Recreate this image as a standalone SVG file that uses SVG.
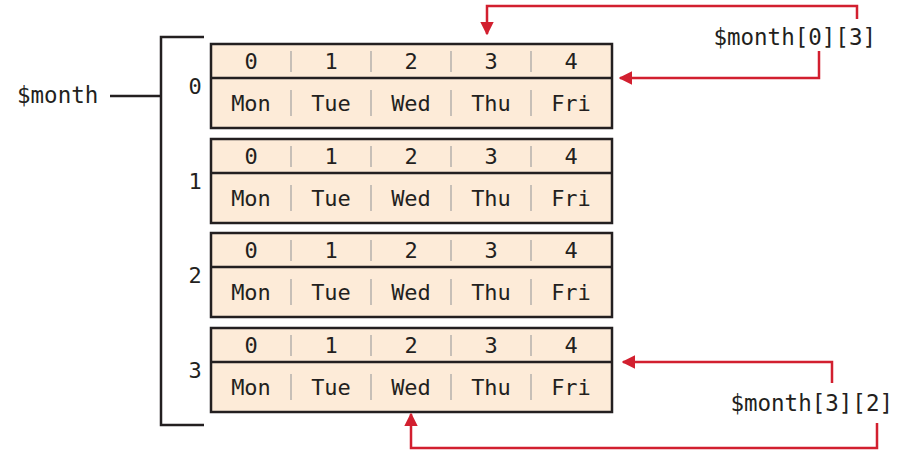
<svg xmlns="http://www.w3.org/2000/svg" width="907" height="451" viewBox="0 0 907 451">
<defs>
<style>
.box{fill:#fdebd8;stroke:#231f20;stroke-width:2.5}
.split{stroke:#231f20;stroke-width:2.5}
.sep{stroke:#b5b0ad;stroke-width:1.5}
.t{font-family:"DejaVu Sans Mono","Liberation Mono",monospace;fill:#231f20;text-anchor:middle}
.idx{font-size:22px}
.day{font-size:22px}
.lbl{font-family:"DejaVu Sans Mono","Liberation Mono",monospace;fill:#231f20;font-size:22.5px}
.blk{fill:none;stroke:#231f20;stroke-width:2.5}
.red{fill:none;stroke:#d21f2f;stroke-width:2.5}
</style>
<marker id="ah" viewBox="0 0 10 10" refX="9" refY="5" markerWidth="5.5" markerHeight="5.5" markerUnits="strokeWidth" orient="auto">
<path d="M0,0 L10,5 L0,10 z" fill="#d21f2f"/>
</marker>
<g id="row">
<rect class="box" x="211" y="0" width="401" height="84"/>
<line class="split" x1="211" y1="34" x2="612" y2="34"/>
<g class="sep">
<line x1="291" y1="7" x2="291" y2="28"/><line x1="371" y1="7" x2="371" y2="28"/><line x1="451" y1="7" x2="451" y2="28"/><line x1="531" y1="7" x2="531" y2="28"/>
<line x1="291" y1="46" x2="291" y2="72"/><line x1="371" y1="46" x2="371" y2="72"/><line x1="451" y1="46" x2="451" y2="72"/><line x1="531" y1="46" x2="531" y2="72"/>
</g>
<g class="t idx">
<text x="251" y="25">0</text><text x="331" y="25">1</text><text x="411" y="25">2</text><text x="491" y="25">3</text><text x="571" y="25">4</text>
</g>
<g class="t day">
<text x="251" y="67">Mon</text><text x="331" y="67">Tue</text><text x="411" y="67">Wed</text><text x="491" y="67">Thu</text><text x="571" y="67">Fri</text>
</g>
</g>
</defs>
<g id="month-label">
<text class="lbl" x="17" y="103">$month</text>
<line class="blk" x1="110" y1="96" x2="161" y2="96"/>
<path class="blk" d="M204,37 H161 V425 H204"/>
</g>
<g id="row0"><use href="#row" y="44"/><text class="t idx" x="195" y="94">0</text></g>
<g id="row1"><use href="#row" y="139"/><text class="t idx" x="195" y="189">1</text></g>
<g id="row2"><use href="#row" y="233"/><text class="t idx" x="195" y="283">2</text></g>
<g id="row3"><use href="#row" y="328"/><text class="t idx" x="195" y="378">3</text></g>
<g id="ref03"><text class="lbl" x="876" y="45" text-anchor="end">$month[0][3]</text></g>
<g id="ref32"><text class="lbl" x="893" y="411" text-anchor="end">$month[3][2]</text></g>
<g id="connectors">
<path class="red" d="M857,19 V6 H487 V34" marker-end="url(#ah)"/>
<path class="red" d="M819,51 V78 H620" marker-end="url(#ah)"/>
<path class="red" d="M832,383 V362 H623" marker-end="url(#ah)"/>
<path class="red" d="M877,423 V448 H411 V414" marker-end="url(#ah)"/>
</g>
</svg>
